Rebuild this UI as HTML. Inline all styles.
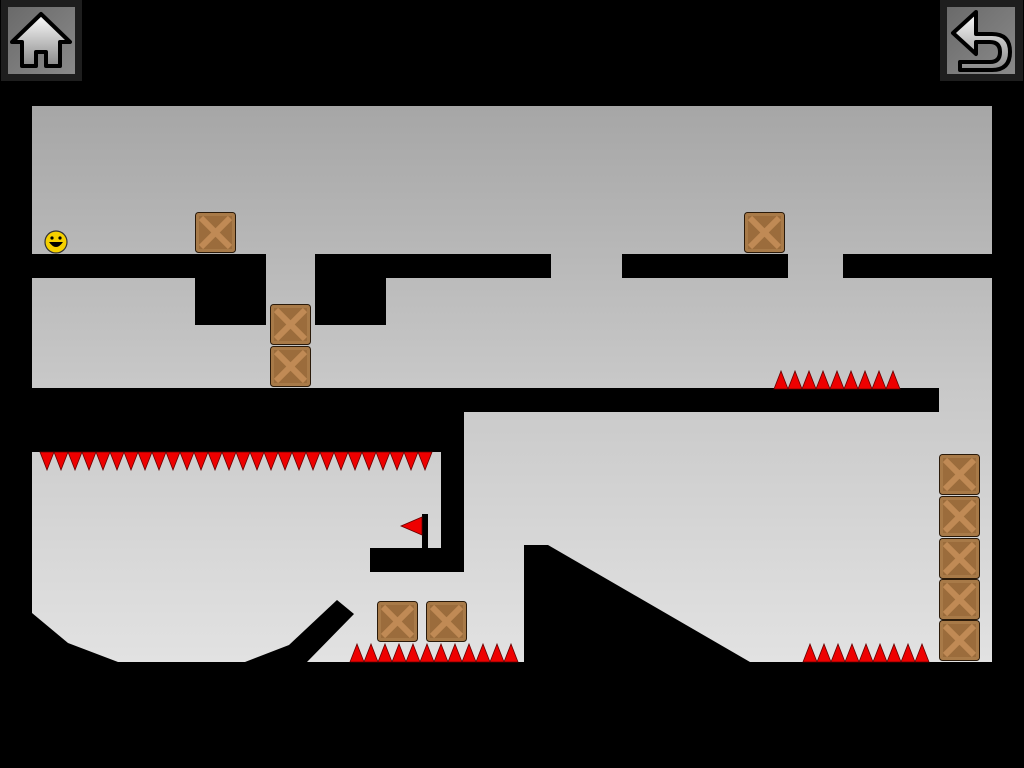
<!DOCTYPE html>
<html><head><style>html,body{margin:0;padding:0;background:#000;width:1024px;height:768px;overflow:hidden}</style></head>
<body>
<svg width="1024" height="768" viewBox="0 0 1024 768" xmlns="http://www.w3.org/2000/svg">
<defs>
<linearGradient id="bg" x1="0" y1="0" x2="0" y2="1">
<stop offset="0" stop-color="#a6a6a6"/><stop offset="0.5" stop-color="#c8c8c8"/><stop offset="1" stop-color="#e2e2e2"/></linearGradient>
<linearGradient id="btn" x1="0" y1="0" x2="1" y2="1"><stop offset="0" stop-color="#6a6a6a"/><stop offset="1" stop-color="#8a8a8a"/></linearGradient>
<linearGradient id="ic" x1="0" y1="0" x2="0" y2="1"><stop offset="0" stop-color="#fff"/><stop offset="1" stop-color="#888"/></linearGradient>
<g id="crate"><rect x="0.5" y="0.5" width="40" height="40" rx="3" fill="#a87a48" stroke="#2a1a0a"/><rect x="4" y="4" width="33" height="33" fill="#9b6c3c"/><path d="M6 6 L35 35 M35 6 L6 35" stroke="#c08a55" stroke-width="6"/></g>
<polygon id="sd" points="0,0 14,0 7,18" fill="#e00" stroke="#600" stroke-width="0.8"/>
<polygon id="su" points="0,18 14,18 7,0" fill="#e00" stroke="#600" stroke-width="0.8"/>
</defs>
<rect width="1024" height="768" fill="#000"/>
<rect x="32" y="106" width="960" height="556" fill="url(#bg)"/>
<!-- buttons -->
<rect x="1" y="0" width="81" height="81" fill="#1e1e1e"/><rect x="8" y="7" width="67" height="67" fill="url(#btn)"/>
<path d="M41 14 L70 42 L60 42 L60 66 L46 66 L46 52 L36 52 L36 66 L22 66 L22 42 L12 42 Z" fill="url(#ic)" stroke="#000" stroke-width="4" stroke-linejoin="round"/>
<rect x="940" y="0" width="83" height="81" fill="#1e1e1e"/><rect x="947" y="7" width="68" height="67" fill="url(#btn)"/>
<path d="M976 12 L953 33 L976 54 L976 42 L990 42 Q1000 42 1000 52 Q1000 62 990 62 L960 62 L960 70 L992 70 Q1010 70 1010 52 Q1010 34 992 34 L976 34 Z" fill="url(#ic)" stroke="#000" stroke-width="4" stroke-linejoin="round"/>
<!-- platforms -->
<g fill="#000">
<rect x="32" y="254" width="234" height="24"/><rect x="315" y="254" width="236" height="24"/>
<rect x="622" y="254" width="166" height="24"/><rect x="843" y="254" width="149" height="24"/>
<rect x="195" y="278" width="71" height="47"/><rect x="315" y="278" width="71" height="47"/>
<rect x="32" y="388" width="907" height="24"/><rect x="32" y="412" width="432" height="40"/>
<rect x="441" y="452" width="23" height="120"/><rect x="370" y="548" width="94" height="24"/>
<polygon points="524,662 524,545 548,545 750,662"/>
<polygon points="32,613 68,643 118,662 32,662"/>
<polygon points="245,662 289,645 337,600 354,614 307,662"/>
</g>
<!-- flag -->
<rect x="422" y="514" width="6" height="34" fill="#000"/>
<polygon points="401,526 422,517 422,535" fill="#e00" stroke="#600" stroke-width="0.8"/>
<!-- smiley -->
<circle cx="56" cy="242" r="11" fill="#f5d000" stroke="#333" stroke-width="1.2"/>
<circle cx="52" cy="238" r="1.6" fill="#000"/><circle cx="60" cy="238" r="1.6" fill="#000"/>
<path d="M49 242 Q56 252 63 242 Z" fill="#000"/>
<!-- crates -->
<use href="#crate" x="195" y="212"/><use href="#crate" x="744" y="212"/>
<use href="#crate" x="270" y="304"/><use href="#crate" x="270" y="346"/>
<use href="#crate" x="377" y="601"/><use href="#crate" x="426" y="601"/>
<use href="#crate" x="939" y="454"/><use href="#crate" x="939" y="496"/><use href="#crate" x="939" y="538"/><use href="#crate" x="939" y="579"/><use href="#crate" x="939" y="620"/>
<!-- spikes -->
<g id="top">
<use href="#sd" x="40" y="452"/><use href="#sd" x="54" y="452"/><use href="#sd" x="68" y="452"/><use href="#sd" x="82" y="452"/><use href="#sd" x="96" y="452"/><use href="#sd" x="110" y="452"/><use href="#sd" x="124" y="452"/><use href="#sd" x="138" y="452"/><use href="#sd" x="152" y="452"/><use href="#sd" x="166" y="452"/><use href="#sd" x="180" y="452"/><use href="#sd" x="194" y="452"/><use href="#sd" x="208" y="452"/><use href="#sd" x="222" y="452"/><use href="#sd" x="236" y="452"/><use href="#sd" x="250" y="452"/><use href="#sd" x="264" y="452"/><use href="#sd" x="278" y="452"/><use href="#sd" x="292" y="452"/><use href="#sd" x="306" y="452"/><use href="#sd" x="320" y="452"/><use href="#sd" x="334" y="452"/><use href="#sd" x="348" y="452"/><use href="#sd" x="362" y="452"/><use href="#sd" x="376" y="452"/><use href="#sd" x="390" y="452"/><use href="#sd" x="404" y="452"/><use href="#sd" x="418" y="452"/>
</g>
<use href="#su" x="774" y="371"/><use href="#su" x="788" y="371"/><use href="#su" x="802" y="371"/><use href="#su" x="816" y="371"/><use href="#su" x="830" y="371"/><use href="#su" x="844" y="371"/><use href="#su" x="858" y="371"/><use href="#su" x="872" y="371"/><use href="#su" x="886" y="371"/>
<use href="#su" x="350" y="644"/><use href="#su" x="364" y="644"/><use href="#su" x="378" y="644"/><use href="#su" x="392" y="644"/><use href="#su" x="406" y="644"/><use href="#su" x="420" y="644"/><use href="#su" x="434" y="644"/><use href="#su" x="448" y="644"/><use href="#su" x="462" y="644"/><use href="#su" x="476" y="644"/><use href="#su" x="490" y="644"/><use href="#su" x="504" y="644"/>
<use href="#su" x="803" y="644"/><use href="#su" x="817" y="644"/><use href="#su" x="831" y="644"/><use href="#su" x="845" y="644"/><use href="#su" x="859" y="644"/><use href="#su" x="873" y="644"/><use href="#su" x="887" y="644"/><use href="#su" x="901" y="644"/><use href="#su" x="915" y="644"/>
</svg>
</body></html>
